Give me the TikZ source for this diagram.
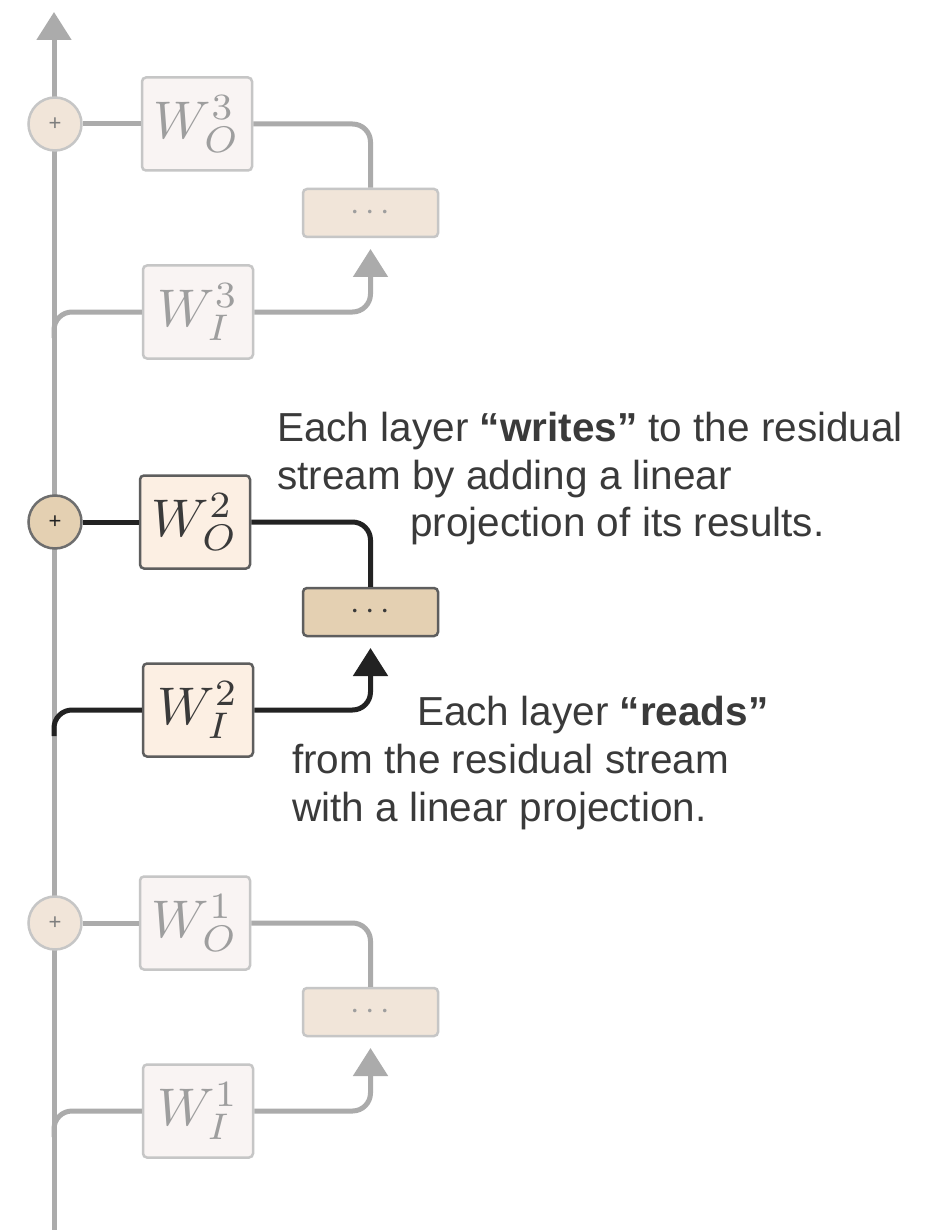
\documentclass[tikz,border=0pt]{standalone}
\usepackage{graphicx}
\usepackage{fontspec}
\setmainfont{Liberation Sans}
\usetikzlibrary{arrows.meta}

\definecolor{streamgray}{HTML}{ABABAB}
\definecolor{inkdark}{HTML}{222222}
\definecolor{fadefill}{HTML}{F9F4F3}
\definecolor{fadeborder}{HTML}{C6C6C6}
\definecolor{fadetan}{HTML}{F1E5D9}
\definecolor{activefill}{HTML}{FCEFE3}
\definecolor{activetan}{HTML}{E4D0B2}
\definecolor{activeborder}{HTML}{5E5E5E}
\definecolor{textgray}{HTML}{3A3A3A}
\definecolor{fadetext}{HTML}{9E9E9E}

% weight-matrix label and ellipsis, enlarged from the 10pt math fonts
\newcommand\wlabel[2]{\scalebox{5.3}{$W_{#1}^{#2}$}}
\newcommand\blockdots{\scalebox{3.4}{$\cdots$}}

\tikzset{
  wbox/.style={draw, line width=2.5pt, rounded corners=4pt, minimum width=110pt,
    minimum height=93pt, inner sep=0pt},
  fadew/.style={wbox, draw=fadeborder, fill=fadefill, text=fadetext},
  actw/.style={wbox, draw=activeborder, fill=activefill, text=textgray},
  dotsbox/.style={draw, line width=2.5pt, rounded corners=4pt, minimum width=135pt,
    minimum height=48pt, inner sep=0pt},
  fadedots/.style={dotsbox, draw=fadeborder, fill=fadetan, text=fadetext},
  actdots/.style={dotsbox, draw=activeborder, fill=activetan, text=textgray},
  plusnode/.style={circle, draw, line width=2.5pt, minimum size=53pt, inner sep=0pt,
    font=\fontsize{22}{22}\selectfont},
  fadeplus/.style={plusnode, draw=fadeborder, fill=fadetan, text=fadetext!80!black},
  actplus/.style={plusnode, draw=activeborder!90, fill=activetan, text=inkdark},
  wire/.style={line width=5pt, rounded corners=18pt},
  fadewire/.style={wire, draw=streamgray},
  actwire/.style={wire, draw=inkdark},
  arrowtip/.style={-{Triangle[width=34pt,length=28pt]}},
  note/.style={inner sep=0pt, anchor=base west, text=textgray,
    font=\fontsize{40.5}{48}\selectfont}
}

\begin{document}
\begin{tikzpicture}[x=1pt, y=-1pt]
  \useasboundingbox[fill=white] (0,0) rectangle (924,1230);

  % residual stream
  \coordinate (streambot) at (54,1230);
  \coordinate (streamtop) at (54,12);
  \draw[fadewire, arrowtip] (streambot) -- (streamtop);

  % ---- layer 3 ----
  \node[fadeplus] (p3) at (55,124) {+};
  \node[fadew] (wo3) at (197,124) {\wlabel{O}{3}};
  \node[fadedots] (d3) at (370.5,213) {\blockdots};
  \node[fadew] (wi3) at (198,312) {\wlabel{I}{3}};
  \coordinate (t3) at (370.5,249);
  \coordinate (b3) at (54,338);
  \draw[fadewire] (p3.east) -- (wo3.west);
  \draw[fadewire] (wo3.east) -| (d3.north);
  \draw[fadewire] (b3) |- (wi3.west);
  \draw[fadewire, arrowtip] (wi3.east) -| (t3);

  % ---- layer 2 ----
  \node[actplus] (p2) at (55,522) {+};
  \node[actw] (wo2) at (195,522) {\wlabel{O}{2}};
  \node[actdots] (d2) at (370.5,612) {\blockdots};
  \node[actw] (wi2) at (198,710) {\wlabel{I}{2}};
  \coordinate (t2) at (370.5,648);
  \coordinate (b2) at (54,736);
  \draw[actwire] (p2.east) -- (wo2.west);
  \draw[actwire] (wo2.east) -| (d2.north);
  \draw[actwire] (b2) |- (wi2.west);
  \draw[actwire, arrowtip] (wi2.east) -| (t2);

  % ---- layer 1 ----
  \node[fadeplus] (p1) at (55,923) {+};
  \node[fadew] (wo1) at (195,923) {\wlabel{O}{1}};
  \node[fadedots] (d1) at (370.5,1012) {\blockdots};
  \node[fadew] (wi1) at (198,1111) {\wlabel{I}{1}};
  \coordinate (t1) at (370.5,1048);
  \coordinate (b1) at (54,1137);
  \draw[fadewire] (p1.east) -- (wo1.west);
  \draw[fadewire] (wo1.east) -| (d1.north);
  \draw[fadewire] (b1) |- (wi1.west);
  \draw[fadewire, arrowtip] (wi1.east) -| (t1);

  % annotations
  \node[note] (w1) at (277,441) {Each layer \textbf{“writes”} to the residual};
  \node[note] (w2) at (277,489) {stream by adding a linear};
  \node[note] (w3) at (410,536) {projection of its results.};
  \node[note] (r1) at (417,725) {Each layer \textbf{“reads”}};
  \node[note] (r2) at (292,773) {from the residual stream};
  \node[note] (r3) at (292,821) {with a linear projection.};
\end{tikzpicture}
\end{document}
